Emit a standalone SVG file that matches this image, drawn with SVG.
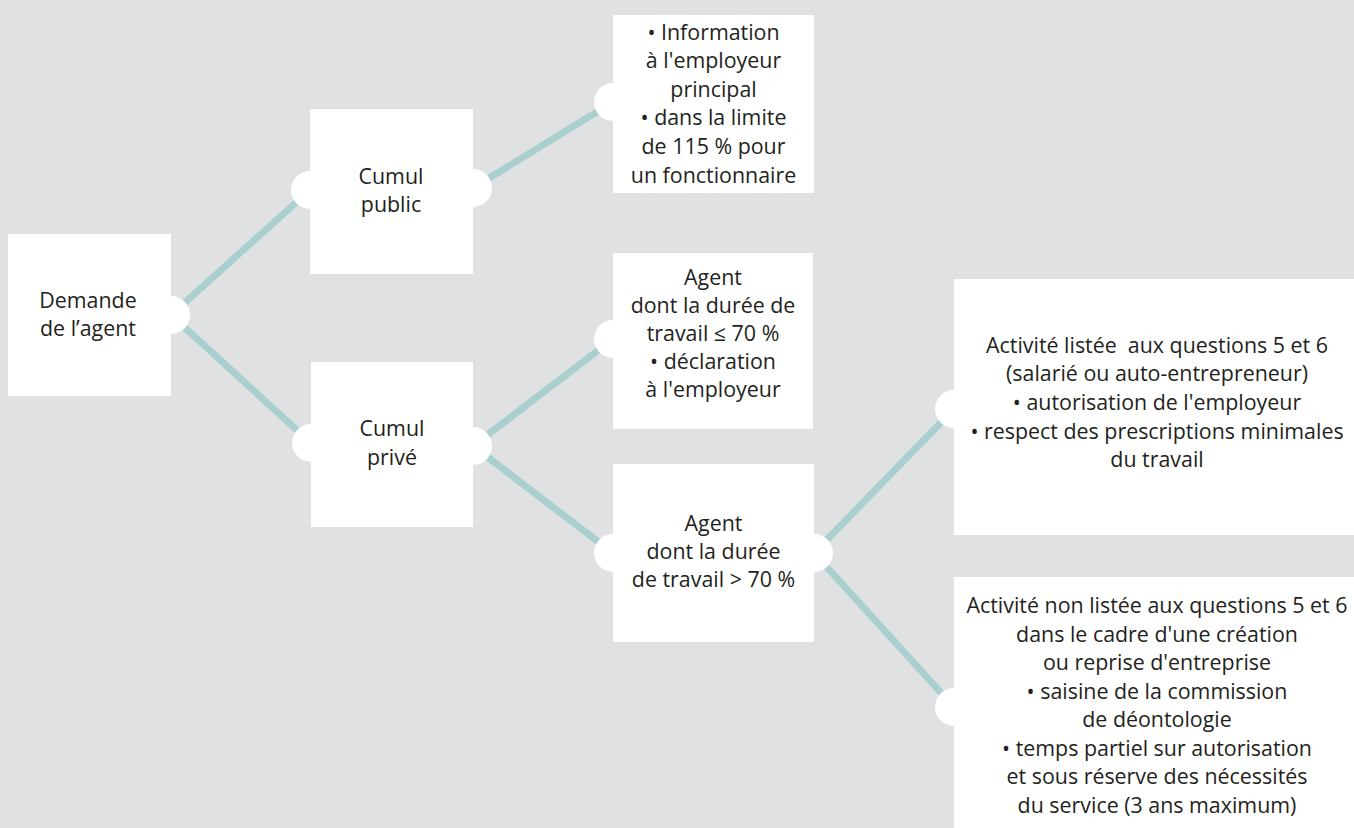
<svg xmlns="http://www.w3.org/2000/svg" width="1354" height="828" viewBox="0 0 1354 828">
<style>
.box{fill:#ffffff}
.port{fill:#ffffff}
.conn{stroke:#aacfcf;stroke-width:7;fill:none}
.t{font-family:"Open Sans","Noto Sans","Liberation Sans",sans-serif;font-size:21.4px;fill:#231f20;text-anchor:middle}
</style>
<rect x="0" y="0" width="1354" height="828" fill="#e0e1e3"/>
<g id="connectors">
<line class="conn" x1="171" y1="315" x2="310" y2="190"/>
<line class="conn" x1="171" y1="315" x2="311" y2="443"/>
<line class="conn" x1="473" y1="188" x2="613" y2="102"/>
<line class="conn" x1="473" y1="446" x2="613" y2="339"/>
<line class="conn" x1="473" y1="446" x2="613" y2="553"/>
<line class="conn" x1="814" y1="553" x2="954" y2="409"/>
<line class="conn" x1="814" y1="553" x2="954" y2="707"/>
</g>
<g id="demande">
<rect class="box" x="8" y="234" width="163" height="162"/>
<circle class="port" cx="171" cy="315" r="19"/>
<text class="t" x="88" y="308">Demande</text>
<text class="t" x="88" y="336">de l’agent</text>
</g>
<g id="cumul-public">
<rect class="box" x="310" y="109" width="163" height="165"/>
<circle class="port" cx="310" cy="190" r="19"/>
<circle class="port" cx="473" cy="188" r="19"/>
<text class="t" x="391" y="184">Cumul</text>
<text class="t" x="391" y="212">public</text>
</g>
<g id="cumul-prive">
<rect class="box" x="311" y="362" width="162" height="165"/>
<circle class="port" cx="311" cy="443" r="19"/>
<circle class="port" cx="473" cy="446" r="19"/>
<text class="t" x="392" y="436">Cumul</text>
<text class="t" x="392" y="465">privé</text>
</g>
<g id="information">
<rect class="box" x="613" y="15" width="201" height="178"/>
<circle class="port" cx="613" cy="102" r="19"/>
<text class="t" x="713.5" y="40">• Information</text>
<text class="t" x="713.5" y="68">à l'employeur</text>
<text class="t" x="713.5" y="97">principal</text>
<text class="t" x="713.5" y="125">• dans la limite</text>
<text class="t" x="713.5" y="154">de 115 % pour</text>
<text class="t" x="713.5" y="183">un fonctionnaire</text>
</g>
<g id="agent-inf70">
<rect class="box" x="613" y="253" width="200" height="176"/>
<circle class="port" cx="613" cy="339" r="19"/>
<text class="t" x="713" y="285">Agent</text>
<text class="t" x="713" y="313">dont la durée de</text>
<text class="t" x="713" y="341">travail ≤ 70 %</text>
<text class="t" x="713" y="369">• déclaration</text>
<text class="t" x="713" y="397">à l'employeur</text>
</g>
<g id="agent-sup70">
<rect class="box" x="613" y="464" width="201" height="178"/>
<circle class="port" cx="613" cy="553" r="19"/>
<circle class="port" cx="814" cy="553" r="19"/>
<text class="t" x="713.5" y="531">Agent</text>
<text class="t" x="713.5" y="559">dont la durée</text>
<text class="t" x="713.5" y="587">de travail &gt; 70 %</text>
</g>
<g id="activite-listee">
<rect class="box" x="954" y="279" width="400" height="256"/>
<circle class="port" cx="954" cy="409" r="19"/>
<text class="t" x="1157" y="353" xml:space="preserve">Activité listée  aux questions 5 et 6</text>
<text class="t" x="1157" y="381">(salarié ou auto-entrepreneur)</text>
<text class="t" x="1157" y="410">• autorisation de l'employeur</text>
<text class="t" x="1157" y="439">• respect des prescriptions minimales</text>
<text class="t" x="1157" y="467">du travail</text>
</g>
<g id="activite-non-listee">
<rect class="box" x="954" y="577" width="400" height="251"/>
<circle class="port" cx="954" cy="707" r="19"/>
<text class="t" x="1157" y="613">Activité non listée aux questions 5 et 6</text>
<text class="t" x="1157" y="642">dans le cadre d'une création</text>
<text class="t" x="1157" y="670">ou reprise d'entreprise</text>
<text class="t" x="1157" y="699">• saisine de la commission</text>
<text class="t" x="1157" y="727">de déontologie</text>
<text class="t" x="1157" y="756">• temps partiel sur autorisation</text>
<text class="t" x="1157" y="784">et sous réserve des nécessités</text>
<text class="t" x="1157" y="813">du service (3 ans maximum)</text>
</g>
</svg>
